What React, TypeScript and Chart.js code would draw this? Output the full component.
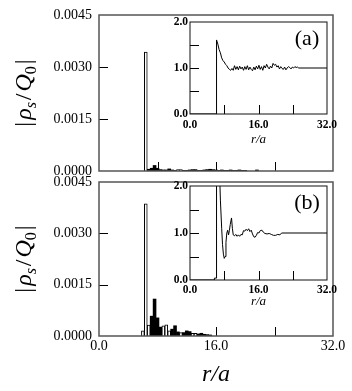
import React, { useEffect, useRef } from 'react';
import { Chart, registerables } from 'chart.js';
Chart.register(...registerables);

const FONT = '"Liberation Serif", serif';

// Histogram bin centres (r/a)
const rBins = [5.6, 6.0, 6.4, 6.8, 7.2, 7.6, 8.0, 8.4, 8.8, 9.2, 9.6, 10.0, 10.4, 10.8, 11.2, 11.6, 12.0, 12.4, 12.8, 13.2, 13.6, 14.0, 14.4, 14.8, 15.2, 15.6, 16.0, 16.4, 16.8, 17.2, 17.6, 18.0, 18.4, 18.8, 19.2, 19.6, 20.0, 20.4, 20.8, 21.2, 21.6];

// Panel (a): open and filled bars
const openA = [null, null, 0.00343, null, null, null, null, null, null, null, null, null, null, 0.00004, 0.00004, null, null, null, null, null, null, null, null, null, null, null, null, null, null, null, null, null, null, null, null, null, null, null, null, null, null];
const filledA = [null, null, null, 0.00005, 0.00008, 0.00016, 0.00008, 0.00004, 0.00003, 0.00003, 0.00006, 0.00003, 0.00002, null, null, 0.00002, 0.00002, 0.00003, 0.00004, 0.00004, 0.00002, 0.00002, 0.00003, 0.00004, 0.00005, 0.00004, 0.00003, 0.00002, 0.00003, 0.00002, 0.00002, 0.00003, 0.00002, 0.00002, 0.00003, 0.00002, 0.00002, null, null, null, 0.00003];

// Panel (b): open and filled bars
const openB = [null, 0.00015, 0.00386, 0.00032, null, null, null, null, 0.0003, 0.00033, 0.00015, null, null, null, 0.0001, null, null, null, 0.00008, 0.00008, null, null, null, null, null, null, null, null, null, null, null, null, null, null, null, null, null, null, null, null, null];
const filledB = [null, null, null, null, 0.00058, 0.00108, 0.00053, 0.00026, null, null, null, 0.0002, 0.0003, 0.00012, null, 0.0001, 0.00015, 0.00013, null, null, 0.00006, 0.00008, 0.00005, 0.00004, 0.00003, null, null, null, null, null, null, null, null, null, null, null, null, null, null, null, null];

const mainYTicks = [0, 0.0015, 0.003, 0.0045];
const mainXTicks = [0, 16, 32];
const mainYMarks = [0.0015, 0.003];
const mainXMarks = [8, 16, 24];

// Inset (a) g(r)
const insetAR = [0, 6.2, 6.2, 6.5, 6.8, 7.1, 7.4, 7.7, 8.0, 8.3, 8.6, 8.9, 9.2, 9.5, 9.8, 10.1, 10.4, 10.7, 11.0, 11.3, 11.6, 11.9, 12.2, 12.5, 12.8, 13.1, 13.4, 13.7, 14.0, 14.3, 14.6, 14.9, 15.2, 15.5, 15.8, 16.1, 16.4, 16.7, 17.0, 17.3, 17.6, 17.9, 18.2, 18.5, 18.8, 19.1, 19.4, 19.7, 20.0, 20.3, 20.6, 20.9, 21.2, 21.5, 21.8, 22.1, 22.4, 22.7, 23.0, 23.3, 23.6, 23.9, 24.2, 24.5, 24.8, 25.1, 25.4, 32];
const insetAG = [0, 0, 1.61, 1.52, 1.40, 1.33, 1.22, 1.16, 1.13, 1.08, 1.05, 1.0, 0.97, 0.95, 0.99, 0.95, 1.05, 0.97, 1.03, 0.96, 1.04, 0.98, 1.02, 0.95, 1.03, 0.97, 1.05, 0.96, 1.02, 0.97, 0.94, 1.02, 0.96, 1.04, 0.98, 1.06, 0.97, 1.03, 0.95, 1.05, 1.0, 1.08, 1.02, 0.98, 1.04, 1.0, 1.10, 1.06, 1.08, 1.02, 1.05, 0.98, 1.03, 0.99, 0.97, 1.02, 0.96, 1.0, 1.03, 1.01, 0.98, 1.02, 1.0, 1.03, 1.01, 1.02, 1.0, 1.0];

// Inset (b) g(r)
const insetBR = [0, 5.7, 5.7, 6.2, 6.2, 6.9, 7.1, 7.4, 7.6, 7.8, 8.0, 8.2, 8.4, 8.6, 8.8, 9.0, 9.2, 9.4, 9.7, 9.9, 10.1, 10.4, 10.7, 11.0, 11.3, 11.6, 11.9, 12.2, 12.5, 12.8, 13.1, 13.4, 13.7, 14.0, 14.3, 14.6, 14.9, 15.2, 15.5, 15.8, 16.1, 16.4, 16.8, 17.1, 17.5, 18.0, 18.5, 19.0, 19.5, 20.0, 20.5, 21.0, 21.4, 32];
const insetBG = [0, 0, 0.04, 0.04, 2.3, 2.3, 1.7, 1.1, 0.75, 0.55, 0.46, 0.5, 0.8, 1.0, 1.06, 0.96, 1.05, 1.18, 1.32, 1.1, 0.96, 0.94, 0.97, 0.93, 0.96, 0.93, 0.97, 0.96, 1.05, 1.04, 1.08, 1.05, 1.09, 1.03, 1.06, 0.98, 0.92, 0.91, 0.95, 1.01, 1.0, 1.05, 1.06, 1.02, 0.99, 0.98, 0.99, 0.97, 0.95, 0.95, 0.97, 0.96, 1.0, 1.0];

const insetYTicks = [0, 1, 2];
const insetXTicks = [0, 16, 32];
const insetYMarks = [0.5, 1, 1.5];
const insetXMarks = [8, 16, 24];

function framePlugin(xMarks: number[], yMarks: number[], len: number, frameColor: string, frameWidth: number) {
  return {
    id: 'frameTicks',
    afterDatasetsDraw(chart: any) {
      const { ctx, chartArea: a, scales } = chart;
      ctx.save();
      ctx.beginPath();
      ctx.strokeStyle = '#000';
      ctx.lineWidth = 1;
      for (const v of xMarks) {
        const px = Math.round(scales.x.getPixelForValue(v)) + 0.5;
        ctx.moveTo(px, a.bottom);
        ctx.lineTo(px, a.bottom - len);
      }
      for (const v of yMarks) {
        const py = Math.round(scales.y.getPixelForValue(v)) + 0.5;
        ctx.moveTo(a.left, py);
        ctx.lineTo(a.left + len, py);
      }
      ctx.stroke();
      ctx.strokeStyle = frameColor;
      ctx.lineWidth = frameWidth;
      ctx.strokeRect(a.left, a.top, a.right - a.left, a.bottom - a.top);
      ctx.restore();
    },
  };
}

const yTitlePlugin = {
  id: 'yTitle',
  afterDraw(chart: any) {
    const { ctx, chartArea: a } = chart;
    const big = `italic 24px ${FONT}`;
    const up = `24px ${FONT}`;
    const small = `italic 16px ${FONT}`;
    const smallUp = `16px ${FONT}`;
    const parts = [
      { t: '|', f: up, dy: 0, g: 2 },
      { t: 'ρ', f: big, dy: 0, g: 0 },
      { t: 's', f: small, dy: 5, g: 2 },
      { t: '/', f: up, dy: 0, g: 2 },
      { t: 'Q', f: big, dy: 0, g: 0 },
      { t: '0', f: smallUp, dy: 5, g: 2 },
      { t: '|', f: up, dy: 0, g: 0 },
    ];
    ctx.save();
    let total = 0;
    const widths = parts.map((p) => {
      ctx.font = p.f;
      const w = ctx.measureText(p.t).width + p.g;
      total += w;
      return w;
    });
    ctx.translate(31, (a.top + a.bottom) / 2);
    ctx.rotate(-Math.PI / 2);
    ctx.fillStyle = '#000';
    ctx.textBaseline = 'alphabetic';
    ctx.textAlign = 'left';
    let x = -total / 2;
    parts.forEach((p, i) => {
      ctx.font = p.f;
      ctx.fillText(p.t, x, p.dy);
      x += widths[i];
    });
    ctx.restore();
  },
};

function tagPlugin(tag: string) {
  return {
    id: 'tag',
    afterDraw(chart: any) {
      const { ctx, chartArea: a } = chart;
      ctx.save();
      ctx.font = `22px ${FONT}`;
      ctx.fillStyle = '#000';
      ctx.textAlign = 'center';
      ctx.textBaseline = 'middle';
      ctx.fillText(tag, a.right - 20, a.top + 17);
      ctx.restore();
    },
  };
}

function mainConfig(open: (number | null)[], filled: (number | null)[], showX: boolean, padTop: number, padBottom: number): any {
  const barCommon = { grouped: false, barPercentage: 1, categoryPercentage: 1 };
  return {
    type: 'bar',
    data: {
      datasets: [
        {
          ...barCommon,
          data: rBins.map((r, i) => ({ x: r, y: open[i] })),
          backgroundColor: '#fff',
          borderColor: '#000',
          borderWidth: 1,
          borderSkipped: 'start',
        },
        {
          ...barCommon,
          data: rBins.map((r, i) => ({ x: r, y: filled[i] })),
          backgroundColor: '#000',
          borderWidth: 0,
        },
      ],
    },
    options: {
      responsive: false,
      animation: false,
      devicePixelRatio: 1,
      layout: { padding: { left: 0, right: 19, top: padTop, bottom: padBottom } },
      plugins: { legend: { display: false }, tooltip: { enabled: false } },
      scales: {
        x: {
          type: 'linear',
          min: 0,
          max: 32,
          offset: false,
          display: showX,
          grid: { display: false, drawTicks: false },
          border: { display: false },
          afterBuildTicks: (s: any) => {
            s.ticks = mainXTicks.map((v) => ({ value: v }));
          },
          ticks: {
            color: '#000',
            font: { family: FONT, size: 14 },
            padding: 2,
            maxRotation: 0,
            autoSkip: false,
            callback: (v: any) => Number(v).toFixed(1),
          },
          title: {
            display: showX,
            text: 'r/a',
            color: '#000',
            font: { family: FONT, size: 24, style: 'italic' },
            padding: { top: 0, bottom: 2 },
          },
          afterFit: (s: any) => {
            s.height = showX ? 55 : 0;
            s.paddingLeft = 0;
            s.paddingRight = 0;
          },
        },
        y: {
          type: 'linear',
          min: 0,
          max: 0.0045,
          grid: { display: false, drawTicks: false },
          border: { display: false },
          afterBuildTicks: (s: any) => {
            s.ticks = mainYTicks.map((v) => ({ value: v }));
          },
          ticks: {
            color: '#000',
            font: { family: FONT, size: 14 },
            padding: 7,
            callback: (v: any) => Number(v).toFixed(4),
          },
          afterFit: (s: any) => {
            s.width = 99;
            s.paddingTop = 0;
            s.paddingBottom = 0;
          },
        },
      },
    },
    plugins: [framePlugin(mainXMarks, mainYMarks, 9, '#555', 1.5), yTitlePlugin],
  };
}

function insetConfig(rs: number[], gs: number[], tag: string, padTop: number, labelPad: number, titlePad: number): any {
  return {
    type: 'line',
    data: {
      datasets: [
        {
          data: rs.map((r, i) => ({ x: r, y: gs[i] })),
          borderColor: '#000',
          borderWidth: 1,
          pointRadius: 0,
          tension: 0,
          fill: false,
        },
      ],
    },
    options: {
      responsive: false,
      animation: false,
      devicePixelRatio: 1,
      layout: { padding: { left: 0, right: 18, top: padTop, bottom: 0 } },
      plugins: { legend: { display: false }, tooltip: { enabled: false } },
      scales: {
        x: {
          type: 'linear',
          min: 0,
          max: 32,
          offset: false,
          grid: { display: false, drawTicks: false },
          border: { display: false },
          afterBuildTicks: (s: any) => {
            s.ticks = insetXTicks.map((v) => ({ value: v }));
          },
          ticks: {
            color: '#000',
            font: { family: FONT, size: 11.5, weight: 'bold' },
            padding: labelPad,
            maxRotation: 0,
            autoSkip: false,
            callback: (v: any) => Number(v).toFixed(1),
          },
          title: {
            display: true,
            text: 'r/a',
            color: '#000',
            font: { family: FONT, size: 13, style: 'italic' },
            padding: { top: 0, bottom: titlePad },
          },
          afterFit: (s: any) => {
            s.height = 36;
            s.paddingLeft = 0;
            s.paddingRight = 0;
          },
        },
        y: {
          type: 'linear',
          min: 0,
          max: 2,
          grid: { display: false, drawTicks: false },
          border: { display: false },
          afterBuildTicks: (s: any) => {
            s.ticks = insetYTicks.map((v) => ({ value: v }));
          },
          ticks: {
            color: '#000',
            font: { family: FONT, size: 11.5, weight: 'bold' },
            padding: 2,
            callback: (v: any) => Number(v).toFixed(1),
          },
          afterFit: (s: any) => {
            s.width = 35;
            s.paddingTop = 0;
            s.paddingBottom = 0;
          },
        },
      },
    },
    plugins: [framePlugin(insetXMarks, insetYMarks, 9, '#111', 1), tagPlugin(tag)],
  };
}

export default function App() {
  const topRef = useRef<HTMLCanvasElement>(null);
  const insetARef = useRef<HTMLCanvasElement>(null);
  const botRef = useRef<HTMLCanvasElement>(null);
  const insetBRef = useRef<HTMLCanvasElement>(null);

  useEffect(() => {
    const charts = [
      new Chart(topRef.current!, mainConfig(openA, filledA, false, 15, 9)),
      new Chart(insetARef.current!, insetConfig(insetAR, insetAG, '(a)', 12, 4, 3)),
      new Chart(botRef.current!, mainConfig(openB, filledB, true, 10, 0)),
      new Chart(insetBRef.current!, insetConfig(insetBR, insetBG, '(b)', 10, 3, 7)),
    ];
    return () => charts.forEach((c) => c.destroy());
  }, []);

  return (
    <div style={{ position: 'absolute', left: 0, top: 0, width: 352, height: 391, background: '#fff', overflow: 'hidden' }}>
      <canvas ref={topRef} width={352} height={180} style={{ position: 'absolute', left: 0, top: 0 }} />
      <canvas ref={botRef} width={352} height={219} style={{ position: 'absolute', left: 0, top: 172 }} />
      <canvas ref={insetARef} width={190} height={140} style={{ position: 'absolute', left: 155, top: 10 }} />
      <canvas ref={insetBRef} width={190} height={140} style={{ position: 'absolute', left: 155, top: 176 }} />
    </div>
  );
}
